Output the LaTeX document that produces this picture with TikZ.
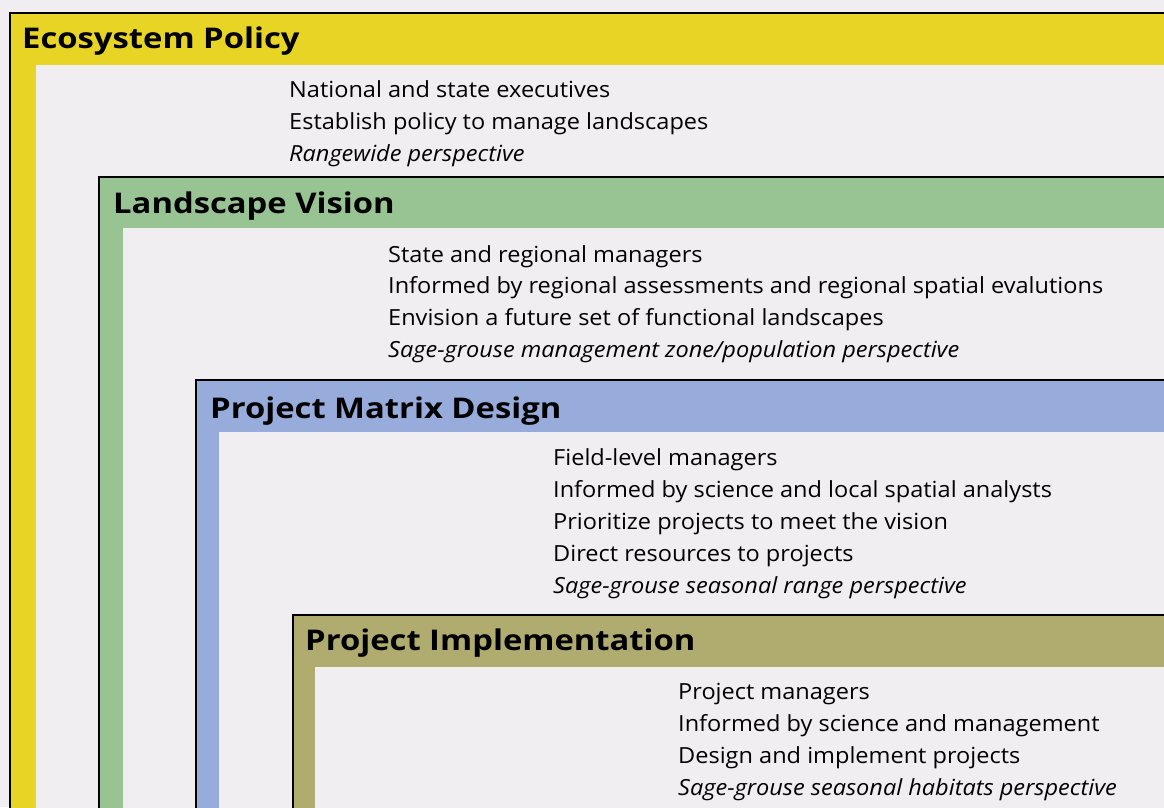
\documentclass[tikz,border=0pt]{standalone}
\usepackage{fontspec}
\setmainfont{Open Sans}[FakeStretch=1.06]
\newfontfamily\headfont{Open Sans}[FakeStretch=1.15]
\definecolor{ecoyellow}{RGB}{231,212,36}
\definecolor{visiongreen}{RGB}{152,196,148}
\definecolor{matrixblue}{RGB}{152,172,220}
\definecolor{implolive}{RGB}{176,172,112}
\definecolor{panelgray}{RGB}{240,238,241}
\tikzset{
  rim/.style={draw=black, line width=2.4pt, line cap=rect},
  heading/.style={anchor=base west, inner sep=0pt,
    font=\headfont\fontsize{28.5}{28.5}\selectfont\bfseries},
  entry/.style={anchor=base west, inner sep=0pt,
    font=\fontsize{22.2}{22.2}\selectfont},
  entryit/.style={entry, font=\fontsize{22.2}{22.2}\selectfont\itshape}
}
\begin{document}
\begin{tikzpicture}[x=1pt, y=-1pt]
\useasboundingbox (0,0) rectangle (1164,807);
\clip (0,0) rectangle (1164,807);
\path[fill=panelgray] (0,0) rectangle (1164,807);

% Ecosystem Policy
\path[fill=ecoyellow] (10,13) rectangle (1170,812);
\path[fill=panelgray] (36,65) rectangle (1170,812);
\path[rim] (10,812) -- (10,13) -- (1170,13);
\path (22,48) node[heading] (text-ecosystem) {Ecosystem Policy};
\path (289,97) node[entry] (text-eco1) {National and state executives};
\path (289,129) node[entry] (text-eco2) {Establish policy to manage landscapes};
\path (289,161) node[entryit] (text-eco3) {Rangewide perspective};

% Landscape Vision
\path[fill=visiongreen] (99,177) rectangle (1170,812);
\path[fill=panelgray] (123,228) rectangle (1170,812);
\path[rim] (99,812) -- (99,177) -- (1170,177);
\path (113,213) node[heading] (text-vision) {Landscape Vision};
\path (388,262) node[entry] (text-vis1) {State and regional managers};
\path (388,293) node[entry] (text-vis2)
  {Informed by regional assessments and regional spatial evalutions};
\path (388,325) node[entry] (text-vis3)
  {Envision a future set of functional landscapes};
\path (388,357) node[entryit] (text-vis4)
  {Sage-grouse management zone/population perspective};

% Project Matrix Design
\path[fill=matrixblue] (196,380) rectangle (1170,812);
\path[fill=panelgray] (219,432) rectangle (1170,812);
\path[rim] (196,812) -- (196,380) -- (1170,380);
\path (210,418) node[heading] (text-matrix) {Project Matrix Design};
\path (553,465) node[entry] (text-mat1) {Field-level managers};
\path (553,497) node[entry] (text-mat2)
  {Informed by science and local spatial analysts};
\path (553,529) node[entry] (text-mat3)
  {Prioritize projects to meet the vision};
\path (553,561) node[entry] (text-mat4) {Direct resources to projects};
\path (553,593) node[entryit] (text-mat5)
  {Sage-grouse seasonal range perspective};

% Project Implementation
\path[fill=implolive] (293,615) rectangle (1170,812);
\path[fill=panelgray] (315,667) rectangle (1170,812);
\path[rim] (293,812) -- (293,615) -- (1170,615);
\path (305,650) node[heading] (text-impl) {Project Implementation};
\path (678,699) node[entry] (text-imp1) {Project managers};
\path (678,731) node[entry] (text-imp2)
  {Informed by science and management};
\path (678,763) node[entry] (text-imp3) {Design and implement projects};
\path (678,795) node[entryit] (text-imp4)
  {Sage-grouse seasonal habitats perspective};
\end{tikzpicture}
\end{document}
